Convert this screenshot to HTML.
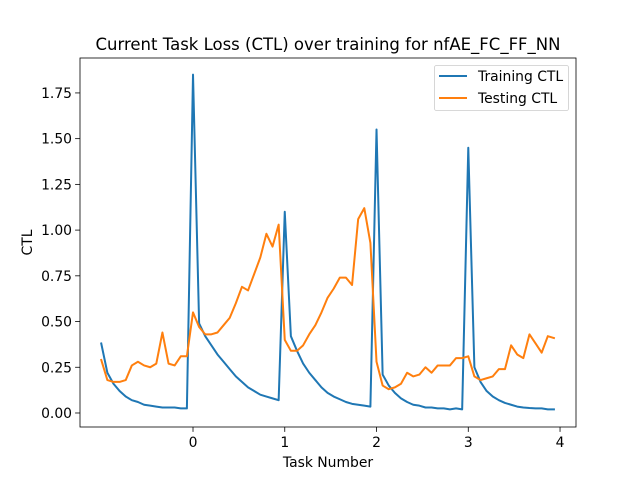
<!DOCTYPE html>
<html><head><meta charset="utf-8"><style>
body{margin:0;background:#fff;font-family:"DejaVu Sans","Liberation Sans",sans-serif}
</style></head><body>
<svg id="chart" width="640" height="480" xmlns="http://www.w3.org/2000/svg" font-family="DejaVu Sans, Liberation Sans, sans-serif"></svg>
<script>
const trainingCTL=[0.38,0.22,0.16,0.12,0.09,0.07,0.06,0.045,0.04,0.035,0.03,0.03,0.03,0.025,0.025,
1.85,0.49,0.42,0.37,0.32,0.28,0.24,0.2,0.17,0.14,0.12,0.10,0.09,0.08,0.07,
1.10,0.42,0.34,0.27,0.22,0.18,0.14,0.11,0.09,0.075,0.06,0.05,0.045,0.04,0.035,
1.55,0.21,0.15,0.11,0.08,0.06,0.045,0.04,0.03,0.03,0.025,0.025,0.02,0.025,0.02,
1.45,0.25,0.17,0.12,0.09,0.07,0.055,0.045,0.035,0.03,0.027,0.025,0.025,0.02,0.02];
const testingCTL=[0.29,0.18,0.17,0.17,0.18,0.26,0.28,0.26,0.25,0.27,0.44,0.27,0.26,0.31,0.31,
0.55,0.47,0.43,0.43,0.44,0.48,0.52,0.6,0.69,0.67,0.76,0.85,0.98,0.91,1.03,
0.4,0.34,0.34,0.37,0.43,0.48,0.55,0.63,0.68,0.74,0.74,0.7,1.06,1.12,0.93,
0.28,0.15,0.13,0.14,0.16,0.22,0.2,0.21,0.25,0.22,0.26,0.26,0.26,0.3,0.3,
0.31,0.2,0.18,0.19,0.2,0.24,0.24,0.37,0.32,0.3,0.43,0.38,0.33,0.42,0.41];
const xTicks=[0,1,2,3,4];
const yTicks=[0,0.25,0.5,0.75,1.0,1.25,1.5,1.75];
const yTickLabels=["0.00","0.25","0.50","0.75","1.00","1.25","1.50","1.75"];

const L=80,R=576,T=58,B=427;
const xMin=-1.2316,xMax=4.174,yMin=-0.0766,yMax=1.941;
const sx=v=>L+(v-xMin)/(xMax-xMin)*(R-L);
const sy=v=>B-(v-yMin)/(yMax-yMin)*(B-T);
const ns="http://www.w3.org/2000/svg";
const svg=document.getElementById('chart');
function mk(tag,attrs,parent){const e=document.createElementNS(ns,tag);for(const k in attrs)e.setAttribute(k,attrs[k]);(parent||svg).appendChild(e);return e;}
const xs=trainingCTL.map((_,i)=>-1+i/15);

function line(vals,color,name){
  const p=mk('polyline',{points:vals.map((v,i)=>sx(xs[i]).toFixed(2)+','+sy(v).toFixed(2)).join(' '),fill:'none',stroke:color,'stroke-width':2,'stroke-linejoin':'round','stroke-linecap':'square'});
  
  
}
line(trainingCTL,'#1f77b4','training-ctl-line');
line(testingCTL,'#ff7f0e','testing-ctl-line');

const frame=mk('rect',{x:L,y:T,width:R-L,height:B-T,fill:'none',stroke:'#000','stroke-width':0.8});



xTicks.forEach(t=>{
  const x=sx(t);
  mk('line',{x1:x,x2:x,y1:B,y2:B+4.9,stroke:'#000','stroke-width':0.8});
  const tx=mk('text',{x:x,y:B+20,'text-anchor':'middle','font-size':13.9,fill:'#000'});
  tx.textContent=String(t);
  
  
});
yTicks.forEach((t,i)=>{
  const y=sy(t);
  mk('line',{x1:L-4.9,x2:L,y1:y,y2:y,stroke:'#000','stroke-width':0.8});
  const tx=mk('text',{x:L-8,y:y+5,'text-anchor':'end','font-size':13.9,fill:'#000'});
  tx.textContent=yTickLabels[i];
  
  
});

const title=mk('text',{x:(L+R)/2,y:50,'text-anchor':'middle','font-size':16.5,fill:'#000'});
title.textContent='Current Task Loss (CTL) over training for nfAE_FC_FF_NN';


const xl=mk('text',{x:(L+R)/2,y:467,'text-anchor':'middle','font-size':13.9,fill:'#000'});
xl.textContent='Task Number';


const yl=mk('text',{x:0,y:0,'text-anchor':'middle','font-size':13.9,fill:'#000',transform:'translate(32,'+((T+B)/2)+') rotate(-90)'});
yl.textContent='CTL';



const lg=mk('g',{});


mk('rect',{x:434.5,y:65.5,width:134,height:45,rx:2,fill:'#fff',stroke:'#ccc','stroke-width':0.8},lg);
[['Training CTL','#1f77b4',76],['Testing CTL','#ff7f0e',98]].forEach(([lab,c,y])=>{
  const g=mk('g',{},lg);
  
  
  mk('line',{x1:439,x2:467,y1:y,y2:y,stroke:c,'stroke-width':2},g);
  const t=mk('text',{x:478,y:y+5,'font-size':13.9,fill:'#000'},g);
  t.textContent=lab;
});
</script>
</body></html>
